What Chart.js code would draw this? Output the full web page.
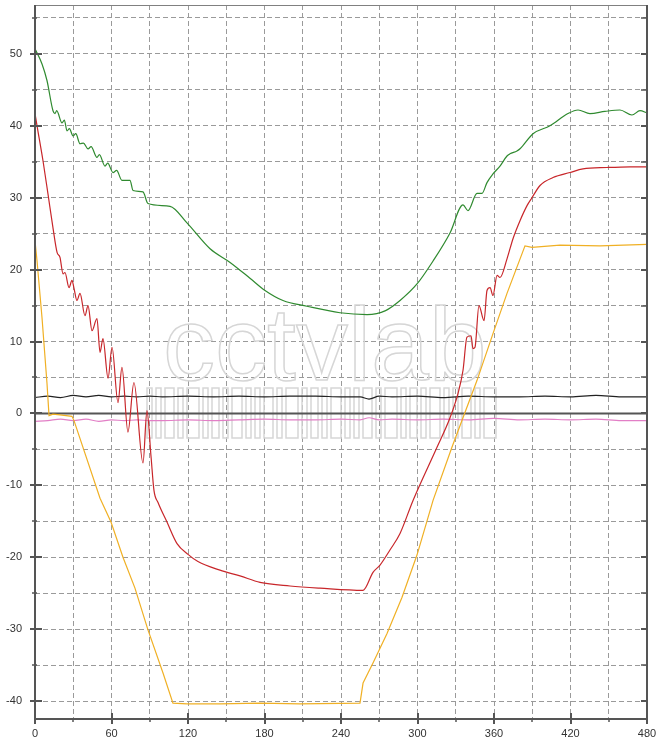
<!DOCTYPE html>
<html>
<head>
<meta charset="utf-8">
<script src="https://cdn.jsdelivr.net/npm/chart.js@4.4.1/dist/chart.umd.min.js"></script>
<style>
html, body { margin: 0; padding: 0; background: #fff; }
#wrap { width: 664px; height: 745px; }
</style>
</head>
<body>
<div id="wrap"><canvas id="chart" width="664" height="745"></canvas></div>
<script>
// time axis 0..480
const greenX = [0, 5.5, 9.4, 14.1, 15.7, 17, 21.2, 23, 25.1, 27, 29.8, 32, 35.3, 38, 41.6, 44, 48.6, 50.5, 54.9, 57, 61.2, 64, 68.2, 74.5, 76.9, 84.7, 88.6, 105.9, 119.2, 137.3, 153, 168.6, 180.4, 194.5, 213.3, 239.2, 260.4, 275, 286.3, 299.6, 312.2, 325.5, 335.7, 339.6, 346.7, 350.6, 354.5, 359.2, 364.7, 370.2, 372.5, 378, 380.4, 390.6, 403.9, 418, 425.9, 435.3, 447, 458.8, 468.2, 474.5, 480];
const greenY = [50.7, 48.6, 46.3, 42.1, 41.7, 42.1, 40.4, 40.8, 39.3, 39.6, 38.6, 38.9, 37.5, 37.6, 36.8, 37.1, 35.6, 36, 34.4, 34.8, 33.5, 33.8, 32.4, 32.4, 31, 30.8, 29.2, 28.8, 26.5, 22.9, 21, 18.8, 17.1, 15.7, 14.9, 14.0, 13.75, 14.3, 15.7, 18, 21.2, 25.1, 29, 28.2, 30.6, 30.6, 32.1, 33.3, 34.4, 35.8, 36.1, 36.5, 36.8, 38.9, 40, 41.7, 42.2, 41.7, 42.0, 42.2, 41.5, 42.1, 41.8];

const redX = [0, 1.6, 6.3, 10.2, 14.1, 17.3, 19.6, 22, 23.5, 26.7, 29, 30.6, 32.9, 35.3, 39.2, 41.6, 44.7, 48.6, 51, 53.3, 57.3, 60.4, 65.1, 68.2, 72.9, 77.6, 84.7, 87.8, 91, 93.3, 96.5, 103.5, 111.4, 120, 127.8, 145.1, 160.8, 176.5, 200, 223.5, 257.3, 265.1, 270.6, 278.4, 286.3, 296.5, 315.3, 325.5, 331.8, 335.7, 338.8, 342, 343.5, 345.1, 348.2, 352.2, 354.5, 356.9, 359.2, 362.4, 364.7, 370.2, 374.9, 380.4, 385.9, 389.8, 396.1, 406.3, 419.6, 429.8, 448.6, 466.7, 480];
const redY = [41.7, 40, 35.1, 30.5, 25.8, 22.4, 21.7, 19.4, 19.6, 17.5, 18.5, 17.4, 15.7, 16.7, 13.6, 15, 11.5, 13.2, 8.5, 10.4, 4.9, 9.2, 1.5, 6.4, -2.6, 4.3, -6.9, 0.4, -6, -10.7, -12.4, -15.1, -18.1, -19.6, -20.6, -21.8, -22.6, -23.5, -24, -24.3, -24.6, -22.1, -21.1, -19, -16.7, -12.1, -4.7, -0.6, 2.8, 6, 10.6, 10.8, 9, 9.2, 15, 12.9, 17.1, 17.5, 16.4, 19.2, 18.9, 21.5, 24.3, 26.8, 28.9, 30, 31.7, 32.8, 33.5, 34, 34.2, 34.3, 34.3];

const yellowX = [0, 1.6, 5.5, 9.4, 11, 14.1, 19.6, 29, 30.6, 51, 59.6, 69, 78.4, 88.6, 100.4, 108.2, 119.2, 145.1, 176.5, 207.8, 254.9, 257.3, 265.1, 276.1, 287.8, 299.6, 312.2, 327, 346.7, 359.2, 370.2, 384.3, 389.8, 411.8, 443.1, 480];
const yellowY = [24, 21.2, 13.3, 4.2, -0.3, -0.1, -0.2, -0.4, -1, -11.8, -15.1, -20, -24.3, -30.1, -36.1, -40.3, -40.4, -40.4, -40.3, -40.4, -40.3, -37.5, -34.7, -30.6, -25.6, -19.7, -12.1, -4.7, 4.6, 11.1, 16.7, 23.3, 23.1, 23.4, 23.3, 23.5];

const flatX = [0, 10, 20, 30, 40, 50, 60, 70, 80, 90, 100, 120, 140, 160, 180, 200, 220, 240, 255, 262, 270, 280, 300, 320, 340, 360, 380, 400, 420, 440, 460, 480];
const blackY = [2.2, 2.4, 2.2, 2.5, 2.3, 2.5, 2.3, 2.4, 2.3, 2.4, 2.3, 2.4, 2.3, 2.4, 2.3, 2.4, 2.4, 2.3, 2.3, 2.0, 2.4, 2.3, 2.4, 2.2, 2.4, 2.3, 2.3, 2.4, 2.3, 2.5, 2.3, 2.3];
const pinkY = [-1.1, -1.0, -0.8, -1.0, -0.8, -1.1, -0.9, -1.0, -0.9, -1.0, -1.0, -0.9, -1.0, -0.9, -0.8, -0.9, -0.9, -0.8, -0.9, -0.6, -0.9, -0.8, -0.9, -0.8, -0.9, -0.7, -0.9, -0.8, -0.9, -0.8, -1.0, -1.0];

const xTickStep = 30, xLabelStep = 60;
const yTickStep = 5, yLabelStep = 10;

const pts = (xs, ys) => xs.map((x, i) => ({ x, y: ys[i] }));
const line = (data, color, smooth) => ({
    data, borderColor: color, borderWidth: 1.2, pointRadius: 0, fill: false,
    tension: 0, cubicInterpolationMode: smooth ? 'monotone' : 'default'
});

const frame = {
    id: 'frame',
    beforeDatasetsDraw(chart) {
        const { ctx, chartArea: a, scales: { y } } = chart;
        ctx.save();
        // watermark
        ctx.strokeStyle = '#d6d6d6';
        ctx.lineWidth = 1.5;
        ctx.font = '104px "Liberation Sans", Arial, sans-serif';
        ctx.strokeText('cctvlab', 163, 380);
        const widths = [5, 5, 9, 5, 12, 5, 7, 5, 10];
        let bx = 147, i = 0;
        while (bx < 498) {
            const w = widths[i % widths.length];
            ctx.strokeRect(bx, 388, w, 50);
            bx += w + 4;
            i++;
        }
        // zero line
        const y0 = y.getPixelForValue(0);
        ctx.strokeStyle = '#555';
        ctx.lineWidth = 2;
        ctx.beginPath();
        ctx.moveTo(a.left, y0);
        ctx.lineTo(a.right, y0);
        ctx.stroke();
        ctx.restore();
    },
    afterDatasetsDraw(chart) {
        const { ctx, chartArea: a, scales: { x, y } } = chart;
        ctx.save();
        ctx.strokeStyle = '#808080';
        ctx.lineWidth = 1;
        ctx.beginPath();
        ctx.moveTo(a.left, a.top + 0.5);
        ctx.lineTo(a.right, a.top + 0.5);
        ctx.stroke();

        ctx.strokeStyle = '#555';
        ctx.lineWidth = 2;
        ctx.beginPath();
        ctx.moveTo(a.left, a.top);
        ctx.lineTo(a.left, a.bottom);
        ctx.lineTo(a.right, a.bottom);
        ctx.moveTo(a.right, a.top);
        ctx.lineTo(a.right, a.bottom);
        ctx.stroke();

        y.ticks.forEach(t => {
            const py = Math.round(y.getPixelForValue(t.value));
            const major = t.value % yLabelStep === 0;
            ctx.lineWidth = major ? 2 : 1.5;
            ctx.beginPath();
            ctx.moveTo(a.left - (major ? 5 : 3), py);
            ctx.lineTo(a.left + (major ? 7 : 2), py);
            ctx.moveTo(a.right - 6, py);
            ctx.lineTo(a.right, py);
            ctx.stroke();
        });
        x.ticks.forEach(t => {
            const px = Math.round(x.getPixelForValue(t.value));
            const major = t.value % xLabelStep === 0;
            ctx.lineWidth = major ? 2 : 1.5;
            ctx.beginPath();
            ctx.moveTo(px, a.bottom - (major ? 6 : 0));
            ctx.lineTo(px, a.bottom + (major ? 5 : 3));
            ctx.stroke();
        });
        ctx.restore();
    }
};

new Chart(document.getElementById('chart'), {
    type: 'line',
    data: {
        datasets: [
            line(pts(redX, redY), '#c8262a', true),
            line(pts(greenX, greenY), '#2f8a2f', true),
            line(pts(yellowX, yellowY), '#f0b024', false),
            line(pts(flatX, blackY), '#222', true),
            line(pts(flatX, pinkY), '#e27fc6', true)
        ]
    },
    options: {
        responsive: false,
        animation: false,
        devicePixelRatio: 1,
        layout: { padding: { top: 5, right: 17, left: 0, bottom: 0 } },
        plugins: { legend: { display: false }, tooltip: { enabled: false } },
        scales: {
            x: {
                type: 'linear', min: 0, max: 480,
                afterFit: s => { s.height = 26; s.paddingLeft = 0; s.paddingRight = 0; },
                ticks: {
                    stepSize: xTickStep, autoSkip: false, maxRotation: 0, padding: 8,
                    color: '#333', font: { family: '"Liberation Sans", Arial, sans-serif', size: 11 },
                    callback: v => (v % xLabelStep === 0 ? v : '')
                },
                grid: { color: '#9a9a9a', lineWidth: 1, drawTicks: false },
                border: { display: false, dash: [5, 3] }
            },
            y: {
                type: 'linear', min: -42.5, max: 56.8,
                afterFit: s => { s.width = 35; s.paddingTop = 0; s.paddingBottom = 0; },
                ticks: {
                    stepSize: yTickStep, includeBounds: false, autoSkip: false, padding: 13,
                    color: '#333', font: { family: '"Liberation Sans", Arial, sans-serif', size: 11 },
                    callback: v => (v % yLabelStep === 0 ? v : '')
                },
                grid: {
                    color: c => (c.tick && c.tick.value === 0 ? 'rgba(0,0,0,0)' : '#9a9a9a'),
                    lineWidth: 1, drawTicks: false
                },
                border: { display: false, dash: [5, 3] }
            }
        }
    },
    plugins: [frame]
});
</script>
</body>
</html>
